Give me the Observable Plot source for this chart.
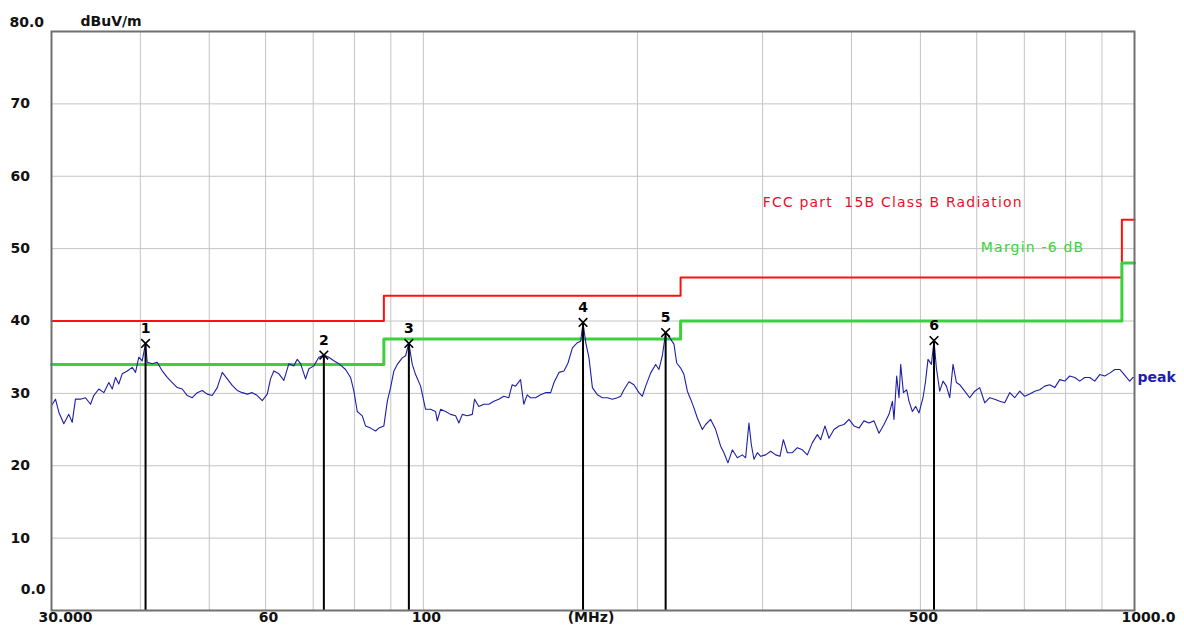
<!DOCTYPE html>
<html><head><meta charset="utf-8">
<script src="https://cdn.jsdelivr.net/npm/d3@7"></script>
<script src="https://cdn.jsdelivr.net/npm/@observablehq/plot@0.6"></script>
<style>
body{margin:0;background:#fff;}
#chart svg{display:block;}
</style>
</head><body><div id="chart"></div>
<script>
// Scan trace (peak detector), frequency in MHz and level in dBuV/m
const freqMHz = [
30.0,30.39,30.72,31.22,31.73,32.08,32.42,32.95,33.49,34.04,34.40,34.97,35.54,36.12,36.52,36.91,37.30,37.72,38.34,38.96,39.38,39.80,40.24,40.68,40.90,41.57,42.25,42.94,43.64,44.35,45.08,45.81,46.56,47.32,48.09,48.88,49.67,50.48,51.31,52.15,53.00,53.86,54.74,55.64,56.55,57.47,58.41,59.36,60.33,60.97,61.63,62.64,63.66,64.70,65.75,66.48,67.20,68.29,69.03,70.15,71.30,72.46,73.64,74.84,76.07,
77.74,79.01,79.86,80.74,82.06,82.93,84.29,85.67,86.59,88.00,88.98,89.93,90.90,91.91,93.41,94.41,95.42,96.48,97.52,99.11,100.72,102.37,104.04,104.60,105.74,107.47,109.22,111.01,112.19,113.44,115.29,117.17,118.05,119.67,121.62,123.62,125.63,127.67,129.76,131.88,133.33,134.78,136.98,138.44,139.97,141.48,143.79,146.15,148.53,151.03,152.66,155.15,157.68,159.74,162.03,164.67,166.43,167.70,169.17,170.97,172.87,175.70,178.55,181.47,184.45,187.46,
189.42,191.46,194.58,197.76,200.98,203.21,205.41,208.72,212.17,214.44,216.81,219.13,222.69,225.12,227.10,230.04,232.52,235.09,237.62,240.16,242.82,246.79,249.43,253.50,257.65,261.84,264.65,268.11,271.97,276.40,280.91,283.91,286.98,289.22,291.68,294.92,298.04,302.93,307.85,312.91,317.28,320.80,324.97,330.27,335.67,341.16,346.74,352.42,358.15,361.99,367.05,371.85,377.91,384.12,390.39,396.77,403.23,409.84,416.45,423.33,430.20,437.23,444.33,451.62,456.64,458.98,463.02,466.50,469.07,473.18,478.28,481.87,487.20,492.43,497.71,
504.22,508.12,512.45,518.10,522.48,526.52,532.27,537.98,543.92,549.77,555.67,561.80,567.84,577.11,586.48,596.08,605.84,615.72,625.78,635.95,646.31,656.90,667.62,678.51,689.59,700.84,712.28,723.88,735.74,747.77,760.0,772.4,785.0,797.8,810.9,824.1,837.5,851.2,865.1,879.2,893.5,908.1,923.0,938.1,953.3,963.6,974.2,984.7,995.3,1000
];
const levelDb = [
28.3,29.2,27.4,25.8,27.1,26.0,29.2,29.2,29.4,28.5,29.7,30.6,30.1,31.5,30.6,32.2,31.3,32.7,33.1,33.6,32.9,35.0,34.5,36.9,34.3,34.1,34.3,33.1,32.2,31.5,30.8,30.6,29.7,29.4,30.1,30.4,29.9,29.7,30.8,32.9,32.0,31.1,30.4,30.1,29.9,30.1,29.7,29.0,29.9,32.0,33.1,32.7,31.8,34.1,33.8,34.7,34.1,32.0,33.4,33.8,35.0,35.3,35.0,34.5,34.1,
33.3,32.2,30.3,27.5,26.9,25.5,25.2,24.8,25.2,25.5,28.9,30.8,33.1,34.0,34.9,35.2,36.9,34.0,32.6,31.0,27.8,27.8,27.5,26.2,27.8,27.5,27.1,26.9,25.9,27.1,26.9,27.1,29.2,28.2,28.5,28.5,28.9,29.2,29.6,29.4,31.2,31.0,31.9,28.5,29.8,29.4,29.4,29.8,30.1,30.1,31.5,32.9,33.1,34.2,36.3,37.0,37.2,39.8,37.0,34.9,30.8,29.8,29.4,29.4,29.2,29.4,
29.6,30.5,31.6,31.2,30.1,29.6,31.0,32.8,34.0,33.3,35.2,38.4,37.5,36.8,34.2,33.5,32.6,30.3,29.2,28.0,26.6,25.0,25.7,26.4,25.0,22.7,21.8,20.4,22.2,21.1,21.5,21.1,25.9,22.9,20.9,21.8,21.3,21.5,22.0,21.5,21.3,23.6,21.8,21.8,22.5,22.2,21.5,23.2,24.3,23.6,25.5,23.8,25.0,25.5,25.7,26.4,25.5,25.2,26.2,25.9,26.2,24.5,25.7,27.1,28.9,26.4,32.4,29.4,34.0,30.1,30.5,28.9,27.5,28.2,27.3,
29.4,31.5,34.7,34.0,37.3,33.5,30.3,31.7,31.0,29.4,34.0,31.5,31.2,30.3,29.4,30.3,30.8,28.7,29.4,29.2,28.9,28.7,30.1,29.4,30.3,29.6,29.9,30.3,30.5,31.0,31.2,30.8,31.9,31.7,32.4,32.2,31.7,32.2,32.2,31.7,32.6,32.4,32.8,33.3,33.3,32.8,32.2,31.7,32.2,32.2
];

// Limit line (FCC part 15B Class B) and the -6 dB margin line
const limitFreq = [30, 88, 88, 230, 230, 960, 960, 1000];
const limitLevel = [40, 40, 43.5, 43.5, 46, 46, 54, 54];
const marginLevel = [34, 34, 37.5, 37.5, 40, 40, 48, 48];

// Markers
const markerNo = ["1", "2", "3", "4", "5", "6"];
const markerFreq = [40.68, 72.46, 95.42, 167.70, 219.13, 522.48];
const markerLevel = [36.9, 35.3, 36.9, 39.8, 38.4, 37.3];

// Axes
const yTickValues = [10, 20, 30, 40, 50, 60, 70];
const xGridValues = [40, 50, 60, 70, 80, 90, 100, 200, 300, 400, 500, 600, 700, 800, 900];
const xTickValues = [60, 100, 500];
const xFirstLabel = "30.000";
const xLastLabel = "1000.0";
const yTopLabel = "80.0";
const yBottomLabel = "0.0";
const unitY = "dBuV/m";
const unitX = "(MHz)";
const limitTitle = "FCC part  15B Class B Radiation";
const marginTitle = "Margin -6 dB";
const traceTitle = "peak";

const trace = freqMHz.map((f, i) => ({f, v: levelDb[i]}));
const limit = limitFreq.map((f, i) => ({f, v: limitLevel[i]}));
const margin = limitFreq.map((f, i) => ({f, v: marginLevel[i]}));
const markers = markerNo.map((n, i) => ({n, f: markerFreq[i], v: markerLevel[i]}));

const font = "'DejaVu Sans', Verdana, sans-serif";

const chart = Plot.plot({
  width: 1184,
  height: 635,
  marginLeft: 51,
  marginRight: 50,
  marginTop: 31,
  marginBottom: 25,
  x: {type: "log", domain: [30, 1000], axis: null},
  y: {domain: [0, 80], axis: null},
  style: {fontFamily: font, fontSize: "14px", fontWeight: "bold", color: "#111", background: "#fff", overflow: "visible"},
  marks: [
    Plot.gridX(xGridValues, {stroke: "#c4c4c4", strokeOpacity: 1, strokeWidth: 1}),
    Plot.gridY(yTickValues, {stroke: "#c4c4c4", strokeOpacity: 1, strokeWidth: 1}),
    Plot.line(limit, {x: "f", y: "v", stroke: "#ff1010", strokeWidth: 2}),
    Plot.line(margin, {x: "f", y: "v", stroke: "#3ad23a", strokeWidth: 3}),
    Plot.line(trace, {x: "f", y: "v", stroke: "#1e1ea8", strokeWidth: 1.1}),
    Plot.ruleX(markers, {x: "f", y1: 0, y2: "v", stroke: "#000", strokeWidth: 2}),
    Plot.dot(markers, {x: "f", y: "v", symbol: "times", r: 4, stroke: "#000", strokeWidth: 1.6}),
    Plot.text(markers, {x: "f", y: "v", text: "n", dy: -15, fontSize: 14, fill: "#000"}),
    Plot.frame({stroke: "#707070", strokeWidth: 2}),
    // y tick labels
    Plot.text(yTickValues, {y: d => d, text: d => String(d), frameAnchor: "left", dx: -41, textAnchor: "start", fill: "#111"}),
    Plot.text([yTopLabel], {text: d => d, frameAnchor: "top-left", dx: -42, dy: -14, textAnchor: "start", fill: "#111"}),
    Plot.text([yBottomLabel], {text: d => d, frameAnchor: "bottom-left", dx: -6, dy: -17, textAnchor: "end", fill: "#111"}),
    Plot.text([unitY], {text: d => d, frameAnchor: "top-left", dx: 29, dy: -15, textAnchor: "start", fill: "#111"}),
    // x tick labels
    Plot.text(xTickValues, {x: d => d, text: d => String(d), frameAnchor: "bottom", dy: 11, dx: 3, fill: "#111"}),
    Plot.text([30], {x: d => d, text: () => xFirstLabel, frameAnchor: "bottom", dy: 11, dx: 14, fill: "#111"}),
    Plot.text([1000], {x: d => d, text: () => xLastLabel, frameAnchor: "bottom", dy: 11, dx: 14, fill: "#111"}),
    Plot.text([unitX], {text: d => d, frameAnchor: "bottom", dy: 11, dx: -2, fill: "#111"}),
    // annotations
    Plot.text([{f: 300, v: 56.4}], {x: "f", y: "v", text: () => limitTitle, textAnchor: "start", fill: "#e8102a", fontWeight: "normal", fontSize: 14}),
    Plot.text([{f: 608, v: 50.2}], {x: "f", y: "v", text: () => marginTitle, textAnchor: "start", fill: "#3ad23a", fontWeight: "normal", fontSize: 14}),
    Plot.text([trace[trace.length - 1]], {x: "f", y: "v", text: () => traceTitle, textAnchor: "start", dx: 3, fill: "#1e1eb0", fontSize: 14})
  ]
});
document.getElementById("chart").appendChild(chart);
// keep double spaces in the limit title, widen the annotation lettering
const svgText = d3.select(chart).selectAll("text");
svgText.attr("xml:space", "preserve").style("white-space", "pre");
svgText.filter(function () { return this.textContent === limitTitle; }).style("letter-spacing", "1.2px");
svgText.filter(function () { return this.textContent === marginTitle; }).style("letter-spacing", "1.2px");
</script>
</body></html>
